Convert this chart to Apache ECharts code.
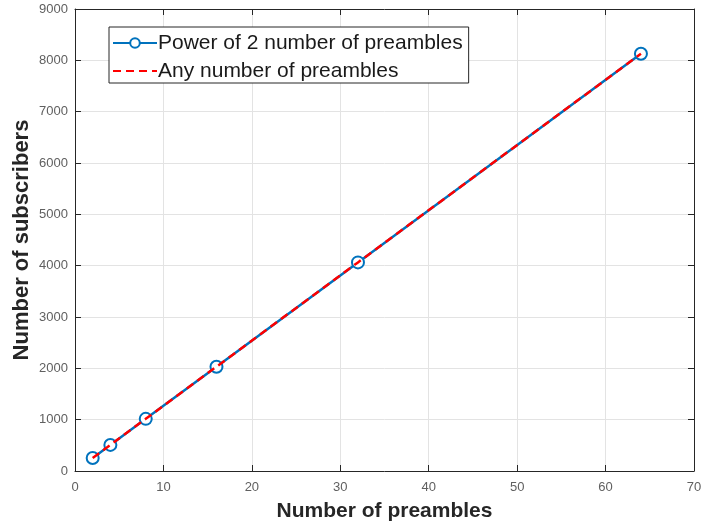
<!DOCTYPE html>
<html>
<head>
<meta charset="utf-8">
<script src="https://cdn.jsdelivr.net/npm/echarts@6/dist/echarts.min.js"></script>
<style>html,body{margin:0;padding:0;background:#fff}#c{width:702px;height:525px}</style>
</head>
<body>
<div id="c"></div>
<script>
const preambles = [2, 4, 8, 16, 32, 64];
const subscribersPow2 = [254, 508, 1016, 2032, 4064, 8128];
const anyPreambles = [2, 4, 8, 16, 32, 64];
const anySubscribers = [254, 508, 1016, 2032, 4064, 8128];
const seriesNames = ['Power of 2 number of preambles', 'Any number of preambles'];
const xTitle = 'Number of preambles';
const yTitle = 'Number of subscribers';

const FONT = 'Liberation Sans, Arial, sans-serif';
const chart = echarts.init(document.getElementById('c'));
const axisLine = () => ({show: true, onZero: false, lineStyle: {color: '#262626', width: 1}});
const tick = () => ({show: true, inside: true, length: 6, lineStyle: {color: '#262626', width: 1}});
const label = (m) => ({color: '#606060', fontSize: 13, fontFamily: FONT, margin: m, formatter: (v) => String(v)});
chart.setOption({
  animation: false,
  grid: {left: 75, right: 8, top: 9, bottom: 54, containLabel: false, outerBoundsMode: 'none'},
  legend: {
    left: 109, top: 27, orient: 'vertical',
    itemWidth: 44, itemHeight: 12, itemGap: 4,
    padding: [4, 6, 0, 3],
    borderColor: '#262626', borderWidth: 1, backgroundColor: '#fff',
    textStyle: {fontSize: 21, color: '#1a1a1a', fontFamily: FONT, padding: [0, 0, 0, -4], lineHeight: 24},
    data: [
      {name: seriesNames[0]},
      {name: seriesNames[1], itemStyle: {opacity: 0}}
    ]
  },
  xAxis: [
    {type: 'value', min: 0, max: 70, interval: 10, position: 'bottom',
     name: xTitle, nameLocation: 'middle', nameGap: 30, nameMoveOverlap: false,
     nameTextStyle: {fontSize: 21, fontWeight: 'bold', color: '#262626', fontFamily: FONT},
     axisLine: axisLine(), axisTick: tick(), axisLabel: label(10),
     splitLine: {show: true, lineStyle: {color: '#e3e3e3'}}},
    {type: 'value', min: 0, max: 70, interval: 10, position: 'top',
     axisLine: axisLine(), axisTick: tick(), axisLabel: {show: false}, splitLine: {show: false}}
  ],
  yAxis: [
    {type: 'value', min: 0, max: 9000, interval: 1000, position: 'left',
     name: yTitle, nameLocation: 'middle', nameGap: 42, nameMoveOverlap: false,
     nameTextStyle: {fontSize: 22, fontWeight: 'bold', color: '#262626', fontFamily: FONT},
     axisLine: axisLine(), axisTick: tick(), axisLabel: label(7),
     splitLine: {show: true, lineStyle: {color: '#e3e3e3'}}},
    {type: 'value', min: 0, max: 9000, interval: 1000, position: 'right',
     axisLine: axisLine(), axisTick: tick(), axisLabel: {show: false}, splitLine: {show: false}}
  ],
  series: [
    {name: seriesNames[0], type: 'line',
     data: preambles.map((x, i) => [x, subscribersPow2[i]]),
     symbol: 'emptyCircle', symbolSize: 12, showAllSymbol: true,
     itemStyle: {color: '#0072BD', borderWidth: 2.5, borderColor: '#0072BD'},
     lineStyle: {color: '#0072BD', width: 2.5}, z: 2},
    {name: seriesNames[1], type: 'line',
     data: anyPreambles.map((x, i) => [x, anySubscribers[i]]),
     symbol: 'none',
     itemStyle: {color: '#FF0000'},
     lineStyle: {color: '#FF0000', width: 2.5, type: [8, 5]}, z: 3}
  ]
});
</script>
</body>
</html>
